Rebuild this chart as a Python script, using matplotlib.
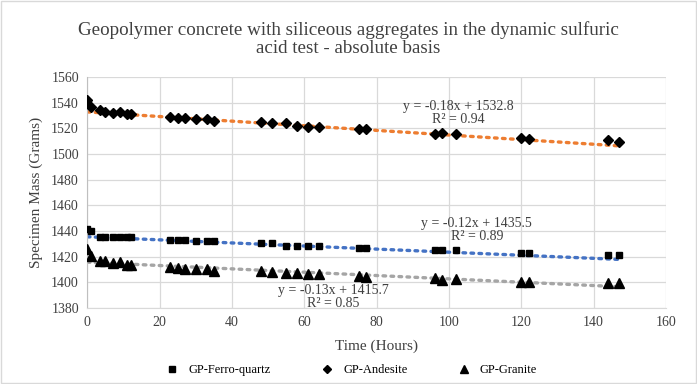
import matplotlib
matplotlib.use("Agg")
import matplotlib.pyplot as plt
import numpy as np
from matplotlib.patches import Rectangle

hours = [0, 1, 3.5, 5, 7, 9, 11, 12, 23, 25, 27, 30, 33, 35, 48, 51, 55, 58,
         61, 64, 75, 77, 96, 98, 102, 120, 122, 144, 147]
ferro_quartz = [1441.5, 1440, 1435.5, 1435.5, 1435.5, 1435.5, 1435, 1435, 1433, 1433,
                1433, 1432, 1432, 1432, 1431, 1430.5, 1428.5, 1428, 1428, 1428,
                1427, 1426.5, 1425.5, 1425, 1425, 1422.5, 1422.5, 1421.5, 1421.5]
andesite = [1542, 1537, 1534.3, 1533, 1532.2, 1532.5, 1531.2, 1531.2, 1529, 1528,
            1528.2, 1527, 1527.3, 1525.7, 1525, 1524.4, 1524.4, 1522, 1520.8, 1521.3,
            1519.2, 1519.4, 1515.8, 1516, 1515.3, 1512.2, 1512, 1511, 1509.4]
granite = [1425.8, 1420.6, 1416.8, 1416.8, 1414.9, 1415.5, 1413.8, 1413.8, 1412.2, 1411.5,
           1410.4, 1410.2, 1410.2, 1409.1, 1408.6, 1408.2, 1407, 1407, 1406.3, 1406.3,
           1405, 1404, 1403.2, 1401.9, 1402.4, 1400.5, 1400.5, 1399.5, 1399.5]

series_names = ["GP-Ferro-quartz", "GP-Andesite", "GP-Granite"]
trend_slope = [-0.12, -0.18, -0.13]
trend_intercept = [1435.5, 1532.8, 1415.7]
trend_r2 = [0.89, 0.94, 0.85]

plt.rcParams['font.family'] = ['Liberation Serif', 'DejaVu Serif']

W, H = 697, 384
fig = plt.figure(figsize=(W / 100, H / 100), dpi=100)
L, R, T, B = 87.3, 666, 77, 308
ax = fig.add_axes([L / W, 1 - B / H, (R - L) / W, (B - T) / H])

markers = ['s', 'D', '^']
msizes = [5, 5, 6.5]
line_colors = ['#4472C4', '#ED7D31', '#A5A5A5']
data = [ferro_quartz, andesite, granite]

x = np.array(hours)
for name, ys, m, ms, lc, s, b in zip(series_names, data, markers, msizes,
                                       line_colors, trend_slope, trend_intercept):
    xl = np.array([x.min(), x.max()])
    ax.plot(xl, s * xl + b, color=lc, linestyle=(0, (0.8, 1.6)), linewidth=2.4,
            dash_capstyle='round', zorder=2)
    ax.plot(x, ys, linestyle='none', marker=m, markersize=ms, color='black',
            label=name, zorder=3)

# trendline labels
label_pos = [(107.7, 1440.4), (102.7, 1532.3), (67.9, 1388.9)]
for (tx, ty), s, b, r2 in zip(label_pos, trend_slope, trend_intercept, trend_r2):
    ax.text(tx, ty, f"y = {s:.2f}x + {b:.1f}\nR² = {r2:.2f}", ha='center',
            va='center', multialignment='center', fontsize=10, color='#404040',
            linespacing=1.0, zorder=4)

ax.set_xlim(0, 160)
ax.set_ylim(1380, 1560)
ax.set_xticks(np.arange(0, 161, 20))
ax.set_yticks(np.arange(1380, 1561, 20))
ax.grid(True, color='#D9D9D9', linewidth=0.9)
ax.set_axisbelow(True)
for sp in ['top', 'right']:
    ax.spines[sp].set_visible(False)
ax.spines['left'].set_color('#BFBFBF')
ax.spines['bottom'].set_color('#D9D9D9')
ax.tick_params(length=0, labelsize=10, colors='#404040', pad=6)

ax.set_xlabel("Time (Hours)", fontsize=11, color='#404040', labelpad=7)
ax.set_ylabel("Specimen Mass (Grams)", fontsize=11, color='#404040', labelpad=6)

fig.text(0.5, 1 - 39 / H, "Geopolymer concrete with siliceous aggregates in the dynamic sulfuric\nacid test - absolute basis",
         ha='center', va='center', fontsize=13.7, color='#404040', linespacing=1.1)

fig.legend(loc='center', bbox_to_anchor=(0.5, 1 - 370 / H), ncol=3, frameon=False,
           fontsize=9, handletextpad=0.3, columnspacing=3.5, markerscale=0.85)

fig.patches.append(Rectangle((0.002, 0.003), 0.996, 0.994, transform=fig.transFigure,
                             fill=False, edgecolor='#D9D9D9', linewidth=1))

fig.savefig("out.png", dpi=100, facecolor='white')
